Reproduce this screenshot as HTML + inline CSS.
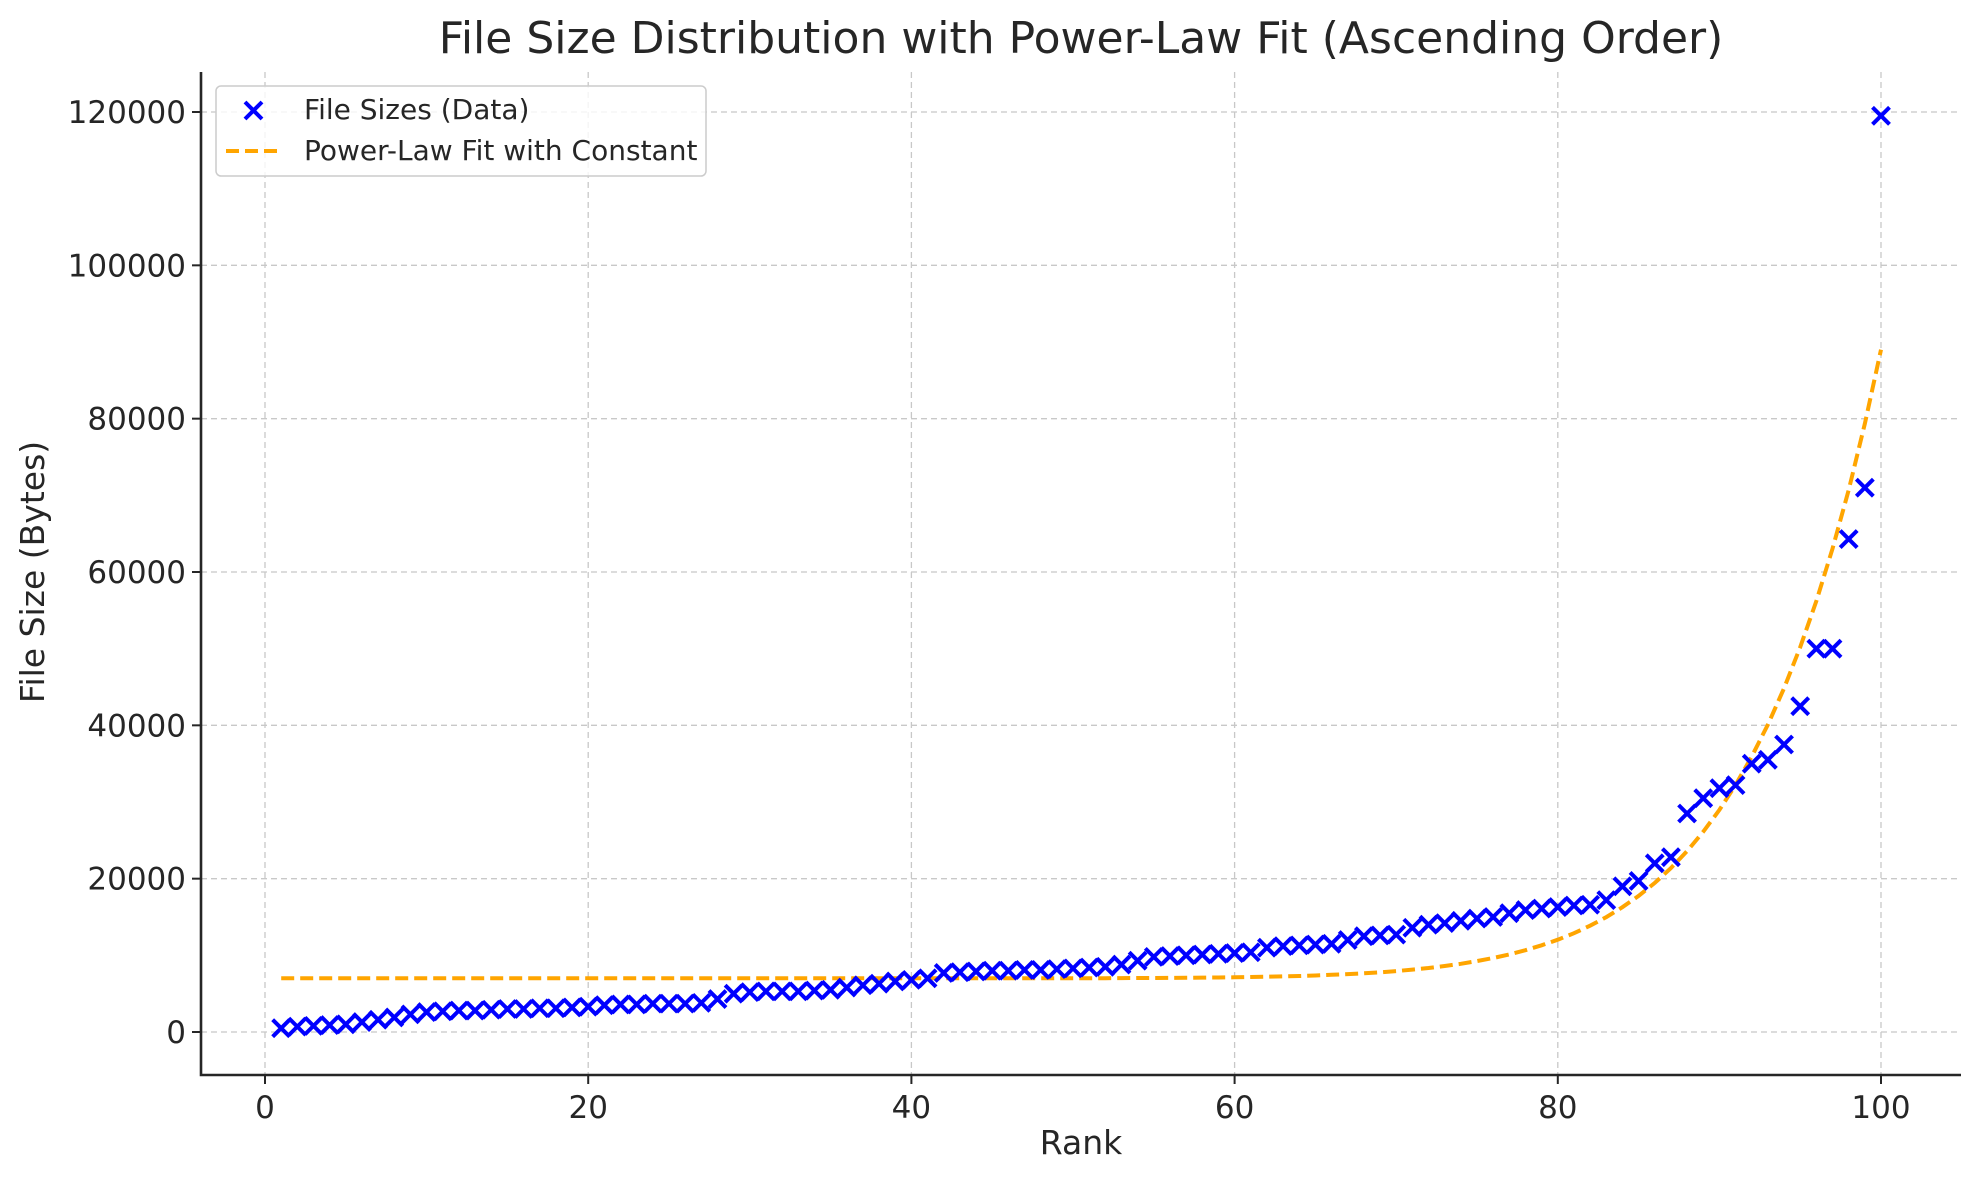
<!DOCTYPE html>
<html><head><meta charset="utf-8"><style>
body{margin:0;background:#fff}
svg text{font-family:"DejaVu Sans","Liberation Sans",sans-serif;fill:#262626}
</style></head><body>
<svg id="chart" width="1979" height="1180" xmlns="http://www.w3.org/2000/svg">
<text x="1081" y="53" font-size="44" text-anchor="middle">File Size Distribution with Power-Law Fit (Ascending Order)</text>
<g id="grid"></g><g id="fit"></g><g id="pts"></g><g id="axes"></g>
<text x="1081" y="1154" font-size="33" text-anchor="middle">Rank</text>
<text transform="translate(44,572) rotate(-90)" font-size="33" text-anchor="middle">File Size (Bytes)</text>
<g>
<rect x="216" y="86" width="490" height="90" rx="5" fill="#fff" fill-opacity="0.8" stroke="#ccc" stroke-width="1.5"/>
<path d="M245 102 l17 17 M262 102 l-17 17" stroke="#0000ff" stroke-width="4"/>
<text x="304" y="119" font-size="28">File Sizes (Data)</text>
<line x1="226" y1="151" x2="280" y2="151" stroke="#ffa500" stroke-width="4" stroke-dasharray="13,6"/>
<text x="304" y="160" font-size="28">Power-Law Fit with Constant</text>
</g>
</svg>
<script>
const ranks=[];for(let i=1;i<=100;i++)ranks.push(i);
const sizes=[500,700,800,900,1000,1300,1600,1900,2300,2600,2700,2800,2800,2900,3000,3000,3100,3100,3200,3300,3500,3600,3600,3700,3700,3700,3800,4300,5000,5200,5300,5300,5300,5400,5500,5800,6100,6300,6600,6800,7000,7700,7800,7900,8000,8000,8100,8100,8200,8300,8400,8500,8800,9300,9800,9900,10000,10100,10200,10300,10400,11000,11200,11300,11400,11500,12000,12500,12600,12700,13600,14000,14200,14500,14800,15000,15500,15900,16100,16300,16500,16600,17200,19000,19700,22000,22800,28500,30500,31800,32200,35000,35500,37500,42500,50000,50000,64300,71000,119500];
const fitA=82000, fitB=12.5, fitC=7000;
const xTicks=[0,20,40,60,80,100];
const yTicks=[0,20000,40000,60000,80000,100000,120000];
const NS="http://www.w3.org/2000/svg";
const L=201,R=1961,T=72,B=1075;
const xs=v=>265+(v-0)*(1881-265)/100;
const ys=v=>1032-v*(1032-112)/120000;
function mk(tag,attrs,parent){const e=document.createElementNS(NS,tag);for(const k in attrs)e.setAttribute(k,attrs[k]);document.getElementById(parent).appendChild(e);return e;}
xTicks.forEach(t=>{
  let g=mk('line',{x1:xs(t),x2:xs(t),y1:T,y2:B,stroke:'#c8c8c8','stroke-width':1.3,'stroke-dasharray':'6,4'},'grid');
  
  
  let tk=mk('line',{x1:xs(t),x2:xs(t),y1:B,y2:B+9,stroke:'#262626','stroke-width':2},'axes');
  
  
  let tx=mk('text',{x:xs(t),y:B+43,'font-size':31,'text-anchor':'middle'},'axes');tx.textContent=t;
  
  
});
yTicks.forEach(t=>{
  let g=mk('line',{x1:L,x2:R,y1:ys(t),y2:ys(t),stroke:'#c8c8c8','stroke-width':1.3,'stroke-dasharray':'6,4'},'grid');
  
  
  let tk=mk('line',{x1:L-9,x2:L,y1:ys(t),y2:ys(t),stroke:'#262626','stroke-width':2},'axes');
  
  
  let tx=mk('text',{x:L-15,y:ys(t)+11,'font-size':31,'text-anchor':'end'},'axes');tx.textContent=t;
  
  
});
let ax=mk('path',{d:`M${L} ${T} V${B} H${R}`,fill:'none',stroke:'#262626','stroke-width':2.6},'axes');


let d='';ranks.forEach((r,i)=>{const y=fitA*Math.pow(r/100,fitB)+fitC;d+=(i?'L':'M')+xs(r).toFixed(1)+' '+ys(y).toFixed(1);});
let fl=mk('path',{d:d,fill:'none',stroke:'#ffa500','stroke-width':4,'stroke-dasharray':'13,6'},'fit');


ranks.forEach((r,i)=>{const x=xs(r),y=ys(sizes[i]),s=8.5;
  let p=mk('path',{d:`M${x-s} ${y-s}L${x+s} ${y+s}M${x+s} ${y-s}L${x-s} ${y+s}`,stroke:'#0000ff','stroke-width':4},'pts');
  
  
});
</script>
</body></html>
